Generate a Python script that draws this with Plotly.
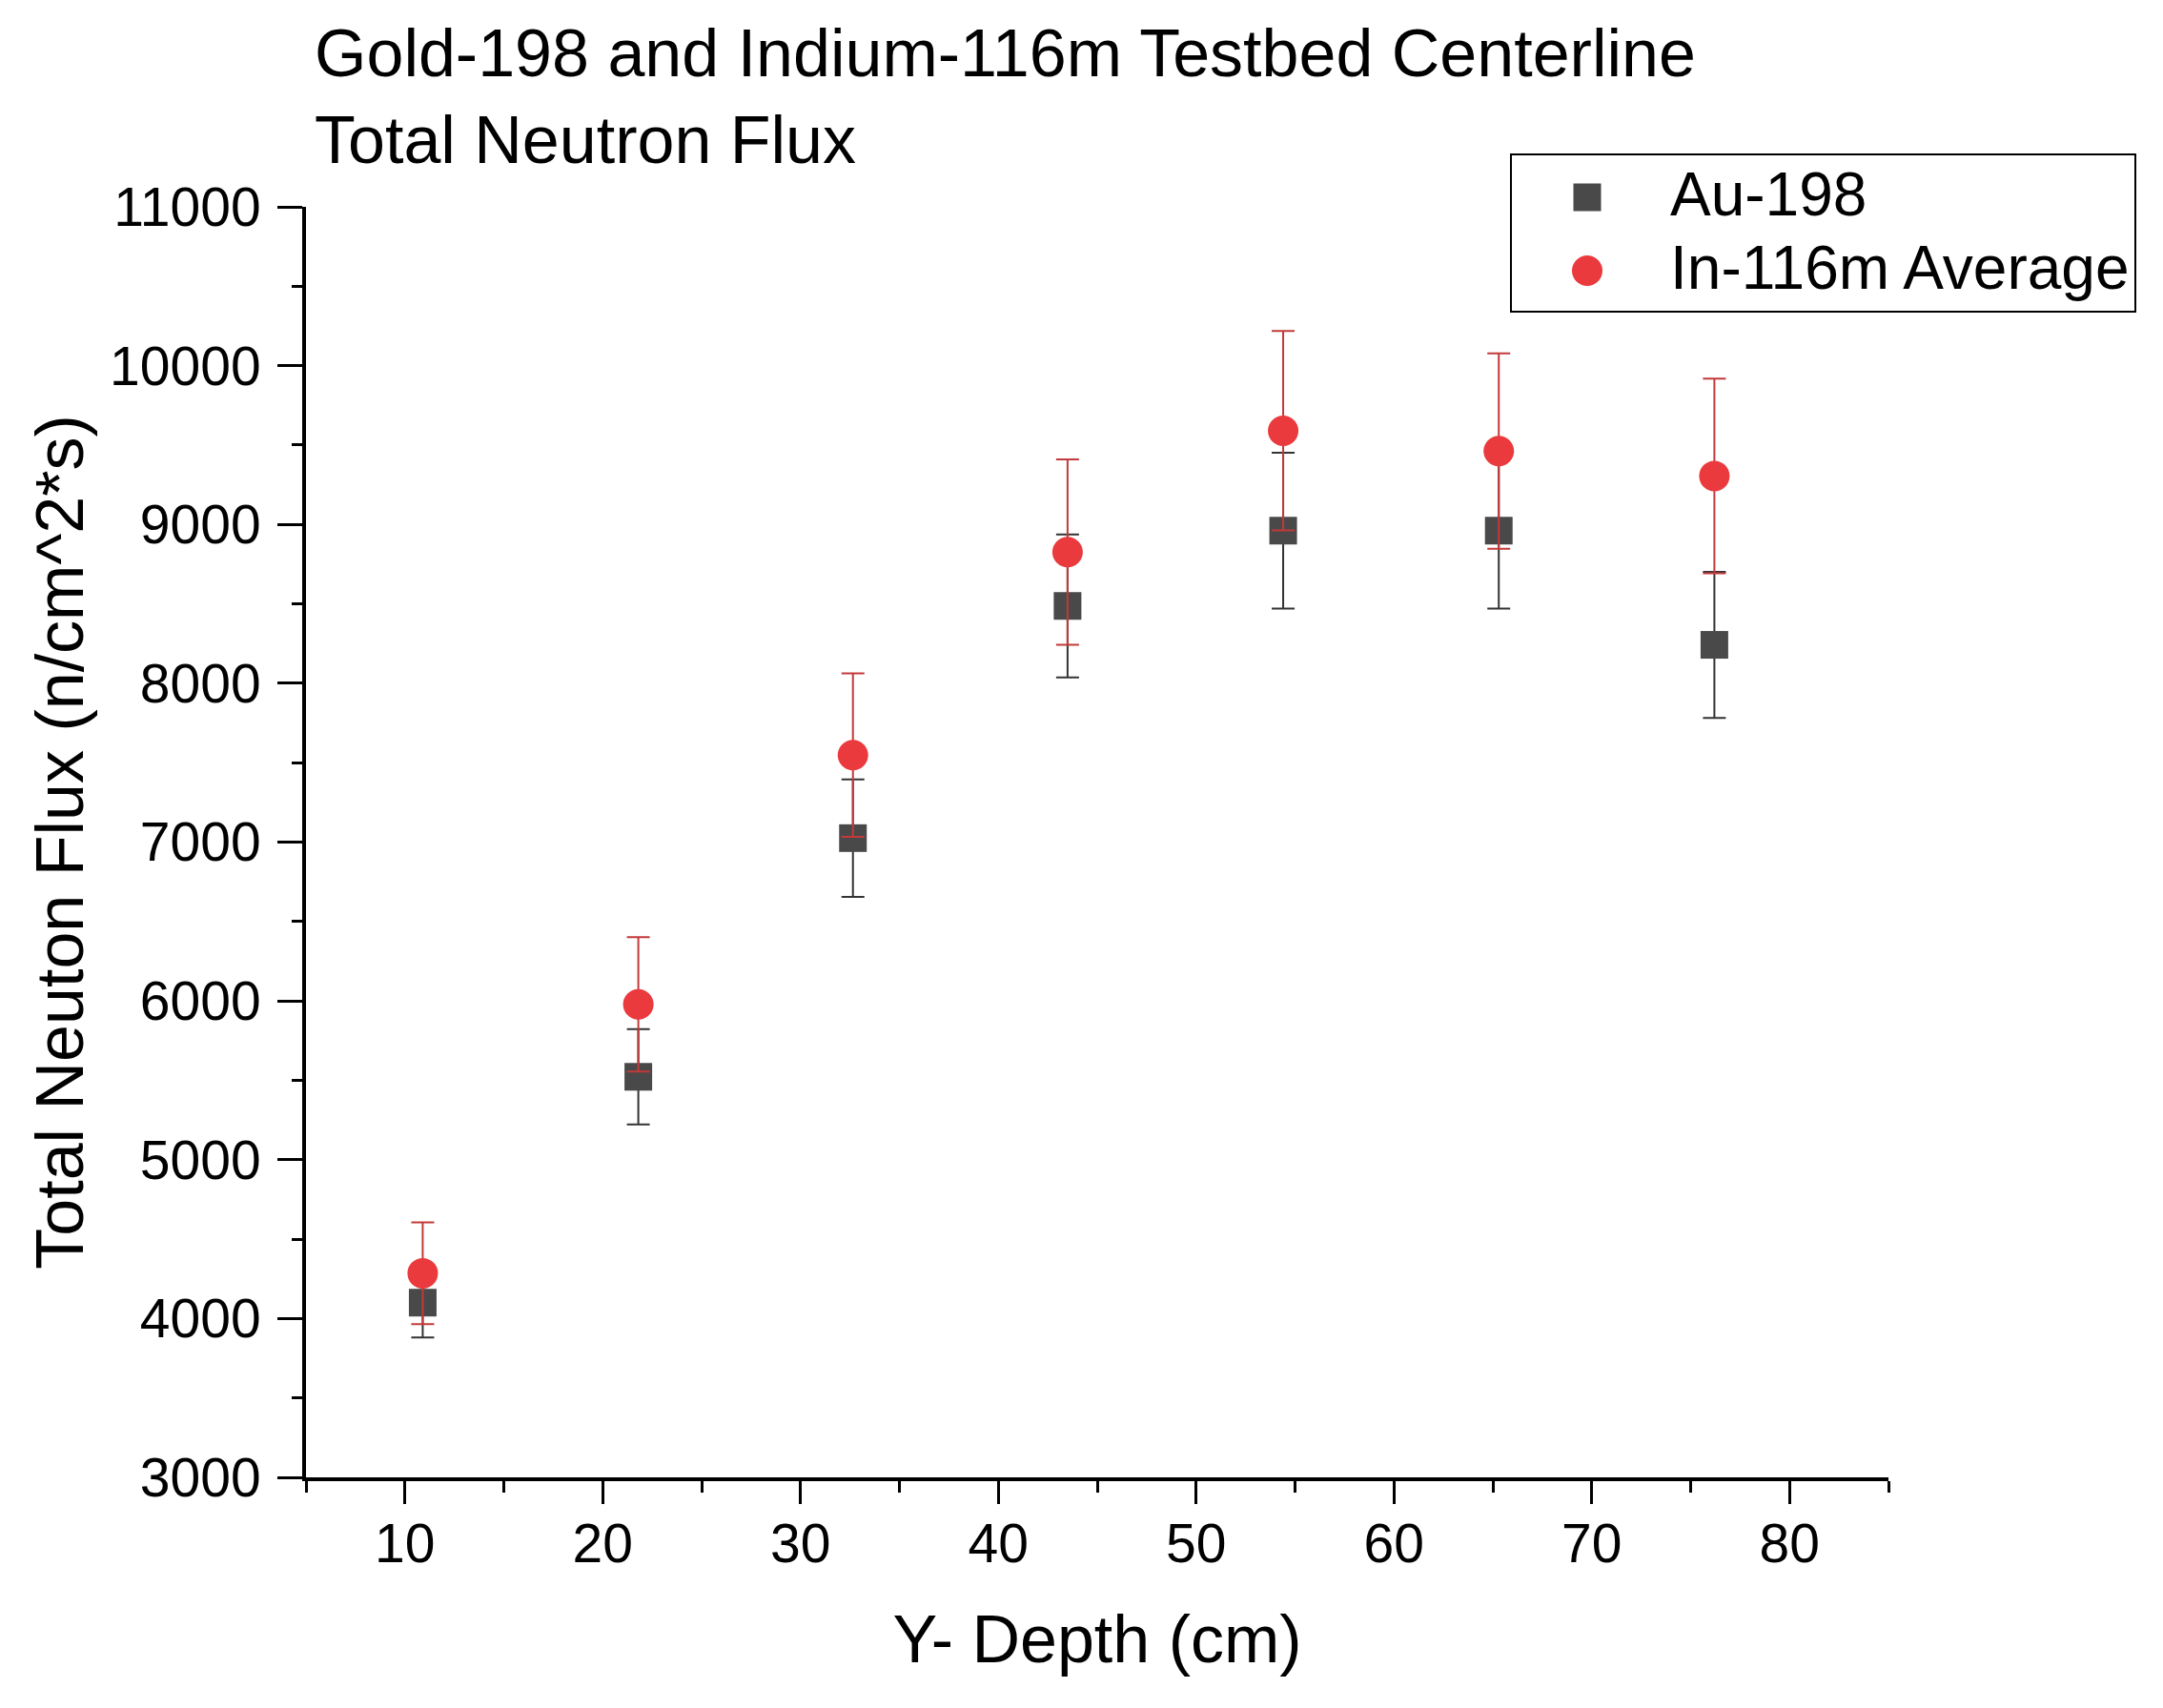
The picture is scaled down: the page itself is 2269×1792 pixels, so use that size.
import plotly.graph_objects as go

# Y- depth positions (cm)
depth = [10.9, 21.8, 32.65, 43.5, 54.4, 65.3, 76.2]

# Au-198 total flux and its error
au_flux = [4100, 5522, 7025, 8487, 8961, 8961, 8242]
au_err = [220, 300, 370, 450, 490, 490, 460]

# In-116m average total flux and its error
in_flux = [4285, 5978, 7548, 8826, 9590, 9462, 9305]
in_err = [320, 423, 515, 583, 628, 615, 613]

series_names = ["Au-198", "In-116m Average"]
series_colors = ["#494949", "#ea3a3e"]
error_colors = ["#333333", "#c23a3a"]

FONT = "Liberation Sans, Arial, sans-serif"
W, H = 2269, 1792

# plot area in figure pixels
L, T = 313, 209
PW, PH = 1660, 1333
R = W - L - PW
B = H - T - PH


def px(x):
    return (x - L) / PW


def py(y):
    return (T + PH - y) / PH


fig = go.Figure()

fig.add_trace(go.Scatter(
    x=depth, y=au_flux,
    mode="markers",
    name=series_names[0],
    marker=dict(symbol="square", size=29, color=series_colors[0]),
    error_y=dict(type="data", array=au_err, visible=True,
                 color=error_colors[0], thickness=2, width=12),
))

fig.add_trace(go.Scatter(
    x=depth, y=in_flux,
    mode="markers",
    name=series_names[1],
    marker=dict(symbol="circle", size=32, color=series_colors[1]),
    error_y=dict(type="data", array=in_err, visible=True,
                 color=error_colors[1], thickness=2, width=12),
))

# ----------------------------------------
# legend box drawn by hand so the symbols keep their real size
shapes = [
    dict(type="rect", xref="paper", yref="paper",
         x0=px(1577), x1=px(2232), y0=py(154), y1=py(319),
         line=dict(color="black", width=2), fillcolor="white", layer="above"),
    dict(type="rect", xref="paper", yref="paper",
         xsizemode="pixel", ysizemode="pixel",
         xanchor=px(1657), yanchor=py(199),
         x0=-14.5, x1=14.5, y0=-14.5, y1=14.5,
         line=dict(width=0), fillcolor=series_colors[0], layer="above"),
    dict(type="circle", xref="paper", yref="paper",
         xsizemode="pixel", ysizemode="pixel",
         xanchor=px(1657), yanchor=py(276),
         x0=-16, x1=16, y0=-16, y1=16,
         line=dict(width=0), fillcolor=series_colors[1], layer="above"),
]

annotations = [
    dict(text=series_names[0], xref="paper", yref="paper",
         x=px(1742), y=py(196), xanchor="left", yanchor="middle",
         showarrow=False, font=dict(size=64, family=FONT, color="black")),
    dict(text=series_names[1], xref="paper", yref="paper",
         x=px(1742), y=py(273), xanchor="left", yanchor="middle",
         showarrow=False, font=dict(size=64, family=FONT, color="black")),
]

fig.update_layout(
    width=W, height=H,
    autosize=False,
    paper_bgcolor="white",
    plot_bgcolor="white",
    font=dict(family=FONT, color="black"),
    margin=dict(l=L, r=R, t=T, b=B, autoexpand=False),
    title=dict(
        text="Gold-198 and Indium-116m Testbed Centerline<br>Total Neutron Flux",
        font=dict(size=70, family=FONT, color="black"),
        x=322 / W, xref="container", xanchor="left",
        y=1 - 72 / H, yref="container", yanchor="top",
    ),
    showlegend=False,
    shapes=shapes,
    annotations=annotations,
)

fig.update_xaxes(
    title=dict(text="Y- Depth (cm)", font=dict(size=70, family=FONT), standoff=46),
    range=[5, 85],
    dtick=10, tick0=0,
    ticks="outside", ticklen=24, tickwidth=3, tickcolor="black",
    minor=dict(dtick=5, ticks="outside", ticklen=12, tickwidth=3, tickcolor="black"),
    tickfont=dict(size=57, family=FONT),
    ticklabelstandoff=-7,
    showline=True, linewidth=4, linecolor="black",
    showgrid=False, zeroline=False,
)

fig.update_yaxes(
    title=dict(text="Total Neuton Flux (n/cm^2*s)", font=dict(size=70, family=FONT), standoff=6),
    range=[3000, 11000],
    dtick=1000, tick0=0, tickformat="d",
    ticks="outside", ticklen=26, tickwidth=3, tickcolor="black",
    minor=dict(dtick=500, ticks="outside", ticklen=11, tickwidth=3, tickcolor="black"),
    tickfont=dict(size=57, family=FONT),
    ticklabelstandoff=6,
    showline=True, linewidth=4, linecolor="black",
    showgrid=False, zeroline=False,
)

fig.write_html("out.html")
